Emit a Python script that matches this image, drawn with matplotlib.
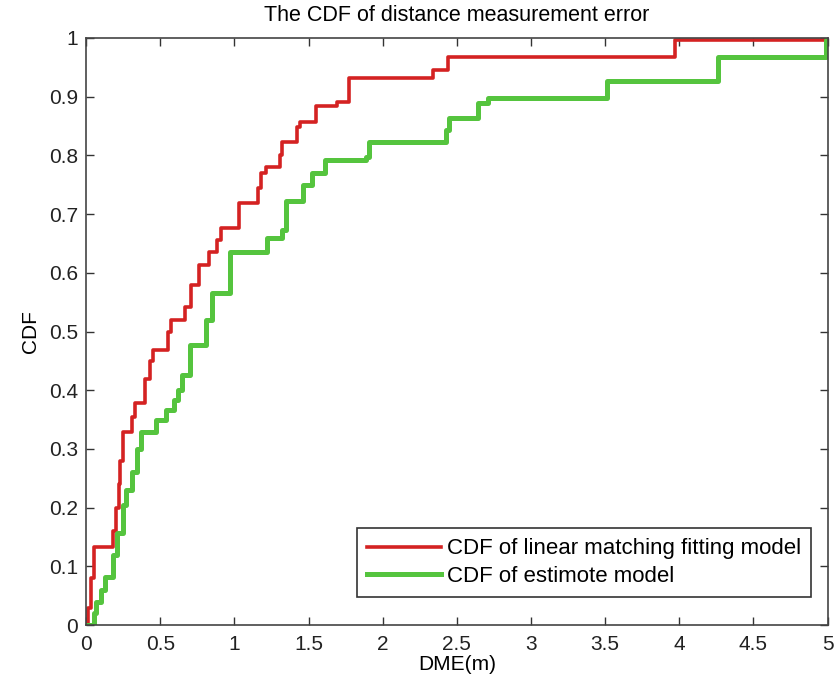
import matplotlib
matplotlib.use("Agg")
import matplotlib.pyplot as plt
from matplotlib.ticker import FuncFormatter

# step points (steps-post)
red_x = [0.00, 0.01, 0.03, 0.05, 0.18, 0.20, 0.22, 0.23, 0.25, 0.31, 0.33, 0.40,
         0.43, 0.45, 0.55, 0.57, 0.67, 0.71, 0.76, 0.83, 0.88, 0.91, 1.03, 1.16,
         1.18, 1.21, 1.31, 1.32, 1.42, 1.44, 1.55, 1.69, 1.77, 2.34, 2.44, 3.97, 5.00]
red_y = [0.0, 0.03, 0.08, 0.133, 0.16, 0.20, 0.24, 0.28, 0.329, 0.355, 0.378, 0.42,
         0.45, 0.468, 0.50, 0.52, 0.542, 0.58, 0.613, 0.636, 0.656, 0.676, 0.719, 0.745,
         0.77, 0.781, 0.80, 0.823, 0.849, 0.857, 0.884, 0.891, 0.932, 0.945, 0.968, 0.997, 0.997]

green_x = [0.00, 0.03, 0.05, 0.07, 0.10, 0.13, 0.18, 0.21, 0.25, 0.27, 0.31, 0.34,
           0.37, 0.47, 0.54, 0.59, 0.62, 0.645, 0.70, 0.81, 0.85, 0.97, 1.22, 1.32,
           1.35, 1.46, 1.52, 1.61, 1.89, 1.91, 2.43, 2.45, 2.64, 2.71, 3.51, 4.26,
           4.99, 5.00]
green_y = [0.0, 0.0, 0.02, 0.04, 0.06, 0.082, 0.12, 0.157, 0.204, 0.23, 0.26, 0.30,
           0.329, 0.349, 0.366, 0.383, 0.40, 0.426, 0.477, 0.52, 0.566, 0.636, 0.659, 0.673,
           0.723, 0.75, 0.77, 0.792, 0.798, 0.823, 0.843, 0.864, 0.889, 0.898, 0.926, 0.968,
           0.997, 0.997]

x_ticks = [0, 0.5, 1, 1.5, 2, 2.5, 3, 3.5, 4, 4.5, 5]
y_ticks = [0, 0.1, 0.2, 0.3, 0.4, 0.5, 0.6, 0.7, 0.8, 0.9, 1]

plt.rcParams['font.family'] = ['Liberation Sans', 'DejaVu Sans']

fig = plt.figure(figsize=(8.36, 6.9), dpi=100)
ax = fig.add_axes([0.103, 0.094, 0.887, 0.851])

ax.plot(red_x, red_y, drawstyle='steps-post', color='#d42222', lw=2.6,
        label='CDF of linear matching fitting model')
ax.plot(green_x, green_y, drawstyle='steps-post', color='#55c43e', lw=3.6,
        label='CDF of estimote model')

ax.set_xlim(0, 5)
ax.set_ylim(0, 1)
ax.set_xticks(x_ticks)
ax.set_yticks(y_ticks)
fmt = FuncFormatter(lambda v, p: f'{v:g}')
ax.xaxis.set_major_formatter(fmt)
ax.yaxis.set_major_formatter(fmt)
ax.tick_params(direction='in', top=True, right=True, length=6, width=1,
               labelsize=15, color='#333333', labelcolor='#222222')
ax.tick_params(axis='x', pad=7)
ax.tick_params(axis='y', pad=6)
for s in ax.spines.values():
    s.set_color('#444444')
    s.set_linewidth(1.2)

ax.set_xlabel('DME(m)', fontsize=15, labelpad=1)
ax.set_ylabel('CDF', fontsize=15, labelpad=6)
ax.set_title('The CDF of distance measurement error', fontsize=15.5, pad=12)

leg = ax.legend(loc='lower right', bbox_to_anchor=(0.978, 0.048), fontsize=16,
                fancybox=False, framealpha=1, edgecolor='#333333',
                handlelength=3.3, borderaxespad=0, handletextpad=0.3,
                borderpad=0.45, labelspacing=0.3)
leg.get_frame().set_linewidth(1.2)

fig.savefig('out.png', dpi=100)
